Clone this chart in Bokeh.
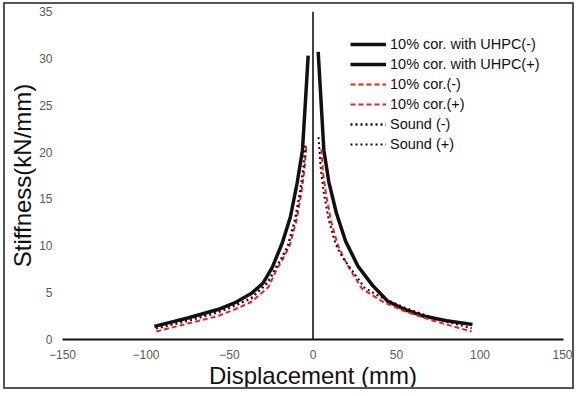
from bokeh.plotting import figure
from bokeh.models import Span, Legend, LegendItem, FixedTicker
from bokeh.embed import file_html
from bokeh.resources import INLINE

# ---- data ----
uhpc_neg_x = [-2.9, -4.5, -6.3, -9.5, -13.5, -18.4, -24.4, -30.0, -37.0, -47.0, -57.0, -75.0, -95.0]
uhpc_neg_y = [30.3, 25.5, 20.2, 16.7, 13.1, 10.3, 7.7, 6.0, 4.9, 3.9, 3.2, 2.3, 1.4]

uhpc_pos_x = [3.1, 4.8, 6.5, 9.5, 14.0, 19.5, 27.0, 36.0, 44.6, 55.0, 66.0, 80.0, 95.5]
uhpc_pos_y = [30.7, 25.5, 20.2, 16.8, 13.5, 10.5, 7.8, 5.7, 4.1, 3.2, 2.5, 2.0, 1.6]

cor_neg_x = [-4.0, -5.2, -7.0, -10.0, -14.0, -18.0, -21.4, -26.6, -37.0, -47.0, -57.0, -75.0, -95.0]
cor_neg_y = [20.5, 18.0, 15.6, 12.6, 10.0, 8.6, 7.6, 5.6, 4.0, 3.2, 2.5, 1.7, 0.8]

cor_pos_x = [5.0, 6.0, 8.0, 11.0, 15.0, 18.5, 21.4, 29.5, 42.0, 55.0, 72.0, 95.0]
cor_pos_y = [20.3, 17.8, 15.3, 12.5, 10.0, 8.7, 7.7, 5.4, 4.0, 3.0, 2.0, 0.85]

sound_neg_x = [-4.5, -5.8, -7.8, -11.0, -15.0, -19.0, -22.5, -27.0, -37.0, -47.0, -57.0, -75.0, -95.0]
sound_neg_y = [20.7, 18.2, 15.6, 12.6, 10.0, 8.6, 7.6, 6.1, 4.4, 3.6, 2.9, 2.0, 1.15]

sound_pos_x = [3.3, 4.5, 6.5, 9.5, 13.5, 17.5, 22.5, 31.0, 42.0, 55.0, 72.0, 95.0]
sound_pos_y = [21.6, 18.5, 15.6, 12.7, 10.2, 8.8, 7.6, 5.5, 4.4, 3.4, 2.3, 1.2]

x_ticks = [-150, -100, -50, 0, 50, 100, 150]
y_ticks = [0, 5, 10, 15, 20, 25, 30, 35]

labels = ["10% cor. with UHPC(-)", "10% cor. with UHPC(+)", "10% cor.(-)",
          "10% cor.(+)", "Sound (-)", "Sound (+)"]

FONT = "Liberation Sans"
W, H = 571, 387

p = figure(width=W, height=H, output_backend="svg", toolbar_location=None,
           x_range=(-150, 150), y_range=(0, 35),
           min_border_left=57, min_border_right=13, min_border_top=7, min_border_bottom=50)
p.styles = {"border": "2px solid #555555", "margin-left": "3px", "margin-top": "2px"}
p.outline_line_color = None
p.grid.visible = False

# axes
p.xaxis.ticker = FixedTicker(ticks=x_ticks)
p.yaxis.ticker = FixedTicker(ticks=y_ticks)
for ax in (p.xaxis[0], p.yaxis[0]):
    ax.major_tick_out = 0
    ax.major_tick_in = 0
    ax.minor_tick_out = 0
    ax.minor_tick_in = 0
    ax.major_label_text_font = FONT
    ax.major_label_text_font_size = "12px"
    ax.major_label_text_color = "#595959"
    ax.axis_label_text_font = FONT
    ax.axis_label_text_font_size = "24px"
    ax.axis_label_text_font_style = "normal"
    ax.axis_label_text_color = "#111111"
p.xaxis.axis_label = "Displacement (mm)"
p.yaxis.axis_label = "Stiffness(kN/mm)"
p.xaxis.axis_line_color = "#111111"
p.xaxis.axis_line_width = 2
p.xaxis.major_label_standoff = 10
p.xaxis.axis_label_standoff = 0
p.yaxis.axis_line_color = None
p.yaxis.major_label_standoff = 10
p.yaxis.axis_label_standoff = 0

p.add_layout(Span(location=0, dimension="height", line_color="#111111", line_width=1.6))

r1 = p.line(uhpc_neg_x, uhpc_neg_y, line_color="#111111", line_width=3.5)
r2 = p.line(uhpc_pos_x, uhpc_pos_y, line_color="#111111", line_width=3.5)
r3 = p.line(cor_neg_x, cor_neg_y, line_color="#ff1a1a", line_width=2, line_dash="5 3")
r4 = p.line(cor_pos_x, cor_pos_y, line_color="#ff1a1a", line_width=2, line_dash="5 3")
r5 = p.line(sound_neg_x, sound_neg_y, line_color="#111111", line_width=2.5, line_dash="2 3")
r6 = p.line(sound_pos_x, sound_pos_y, line_color="#111111", line_width=2, line_dash="2 3")

items = [LegendItem(label=l, renderers=[r]) for l, r in zip(labels, [r1, r2, r3, r4, r5, r6])]
legend = Legend(items=items, location=(288, 185), padding=0, margin=0, spacing=0,
                glyph_width=36, glyph_height=20, label_height=20, label_standoff=4,
                label_text_font=FONT, label_text_font_size="14.5px",
                label_text_color="#111111", border_line_color=None,
                background_fill_alpha=0)
p.add_layout(legend)

open("out.html", "w").write(file_html(p, INLINE))
